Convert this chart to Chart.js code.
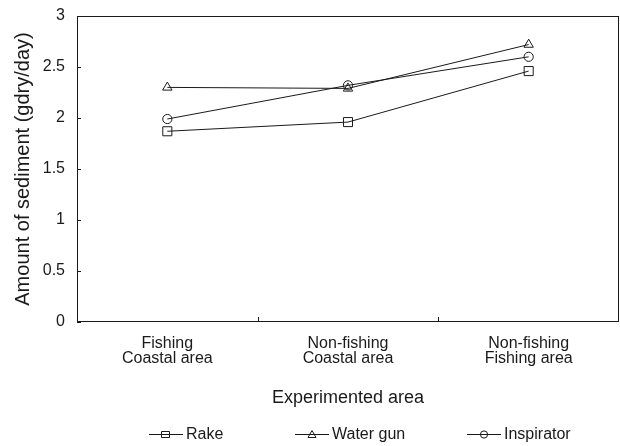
<!DOCTYPE html>
<html>
<head>
<meta charset="utf-8">
<script src="https://cdn.jsdelivr.net/npm/chart.js@4.4.1/dist/chart.umd.min.js"></script>
<style>
  html, body { margin: 0; background: #fff; overflow: hidden; }
  #wrap { width: 620px; height: 446px; }
</style>
</head>
<body>
<div id="wrap"><canvas id="chart"></canvas></div>
<script>
const categories = [
  ["Fishing", "Coastal area"],
  ["Non-fishing", "Coastal area"],
  ["Non-fishing", "Fishing area"],
];
const rake = [1.87, 1.96, 2.46];
const waterGun = [2.3, 2.29, 2.72];
const inspirator = [1.99, 2.32, 2.6];
const seriesNames = ["Rake", "Water gun", "Inspirator"];
const yMin = 0, yMax = 3, yStep = 0.5;

const FONT = "'Liberation Sans', Arial, sans-serif";
const INK = "#1a1a1a";
const RIGHT_GAP = 1;

const styles = ["rect", "triangle", "circle"];
const radii = [6.4, 5.4, 4.6];

function makeSet(i, data) {
  return {
    label: seriesNames[i],
    data: data,
    borderColor: INK,
    borderWidth: 1,
    pointStyle: styles[i],
    pointRadius: radii[i],
    pointBorderWidth: 1,
    pointBorderColor: INK,
    pointBackgroundColor: "rgba(0,0,0,0)",
    tension: 0,
  };
}

function noPadding(scale) {
  scale.paddingLeft = 0;
  scale.paddingRight = 0;
  scale.paddingTop = 0;
  scale.paddingBottom = 0;
}

// small legend symbol: line with marker in the middle
function drawSymbol(ctx, style, x, y) {
  ctx.beginPath();
  ctx.moveTo(x, y + 0.5);
  ctx.lineTo(x + 34, y + 0.5);
  ctx.stroke();
  ctx.beginPath();
  const cx = x + 17;
  if (style === "rect") ctx.rect(cx - 4.5, y - 2.5, 8, 6);
  else if (style === "triangle") {
    ctx.moveTo(cx, y - 3.5);
    ctx.lineTo(cx + 4, y + 3.5);
    ctx.lineTo(cx - 4, y + 3.5);
    ctx.closePath();
  } else ctx.arc(cx, y + 0.5, 3.6, 0, Math.PI * 2);
  ctx.stroke();
}

// the layout leaves a few px free on the right; stretch the plot to the edge
const stretchPlugin = {
  id: "stretch",
  afterLayout(chart) {
    const right = chart.width - RIGHT_GAP;
    const a = chart.chartArea;
    if (a.right >= right) return;
    const x = chart.scales.x;
    x.right = right;
    x.width = right - x.left;
    x.configure();
    a.right = right;
    a.width = right - a.left;
  },
};

// frame, inward ticks and legend row
const framePlugin = {
  id: "frame",
  afterDraw(chart) {
    const { ctx, chartArea: a, scales } = chart;
    ctx.save();
    ctx.strokeStyle = INK;
    ctx.lineWidth = 1;
    ctx.strokeRect(a.left + 0.5, a.top + 0.5, a.right - a.left - 1, a.bottom - a.top - 1);
    ctx.beginPath();
    scales.y.ticks.forEach((t) => {
      const y = Math.round(scales.y.getPixelForValue(t.value)) + 0.5;
      ctx.moveTo(a.left, y);
      ctx.lineTo(a.left + 4, y);
    });
    for (let i = 1; i < categories.length; i++) {
      const x = Math.round((scales.x.getPixelForValue(i - 1) + scales.x.getPixelForValue(i)) / 2) + 0.5;
      ctx.moveTo(x, a.bottom);
      ctx.lineTo(x, a.bottom - 5);
    }
    ctx.stroke();

    // legend
    ctx.font = "16px " + FONT;
    ctx.fillStyle = INK;
    ctx.textBaseline = "middle";
    const legendY = 434;
    const starts = [149, 295, 467];
    seriesNames.forEach((name, i) => {
      drawSymbol(ctx, styles[i], starts[i], legendY);
      ctx.fillText(name, starts[i] + 37, legendY + 1);
    });
    ctx.restore();
  },
};

new Chart(document.getElementById("chart"), {
  type: "line",
  data: {
    labels: categories,
    datasets: [makeSet(0, rake), makeSet(1, waterGun), makeSet(2, inspirator)],
  },
  options: {
    responsive: true,
    maintainAspectRatio: false,
    animation: false,
    layout: { padding: { top: 16, right: RIGHT_GAP, left: 0, bottom: 24 } },
    scales: {
      x: {
        offset: true,
        grid: { display: false, drawTicks: false },
        border: { display: false },
        ticks: {
          color: INK,
          padding: 14,
          maxRotation: 0,
          font: { family: FONT, size: 16, lineHeight: 0.95 },
        },
        title: {
          display: true,
          text: "Experimented area",
          color: INK,
          padding: { top: 0, bottom: 13 },
          font: { family: FONT, size: 18 },
        },
        afterFit(scale) {
          scale.height = 100;
          noPadding(scale);
        },
      },
      y: {
        min: yMin,
        max: yMax,
        grid: { display: false, drawTicks: false },
        border: { display: false },
        ticks: {
          stepSize: yStep,
          color: INK,
          padding: 12,
          font: { family: FONT, size: 16 },
          callback: (v) => String(v),
        },
        title: {
          display: true,
          text: "Amount of sediment (gdry/day)",
          color: INK,
          padding: { top: 11, bottom: 0 },
          font: { family: FONT, size: 20 },
        },
        afterFit(scale) {
          scale.width = 77;
          noPadding(scale);
        },
      },
    },
    plugins: {
      tooltip: { enabled: false },
      legend: { display: false },
    },
  },
  plugins: [stretchPlugin, framePlugin],
});
</script>
</body>
</html>
